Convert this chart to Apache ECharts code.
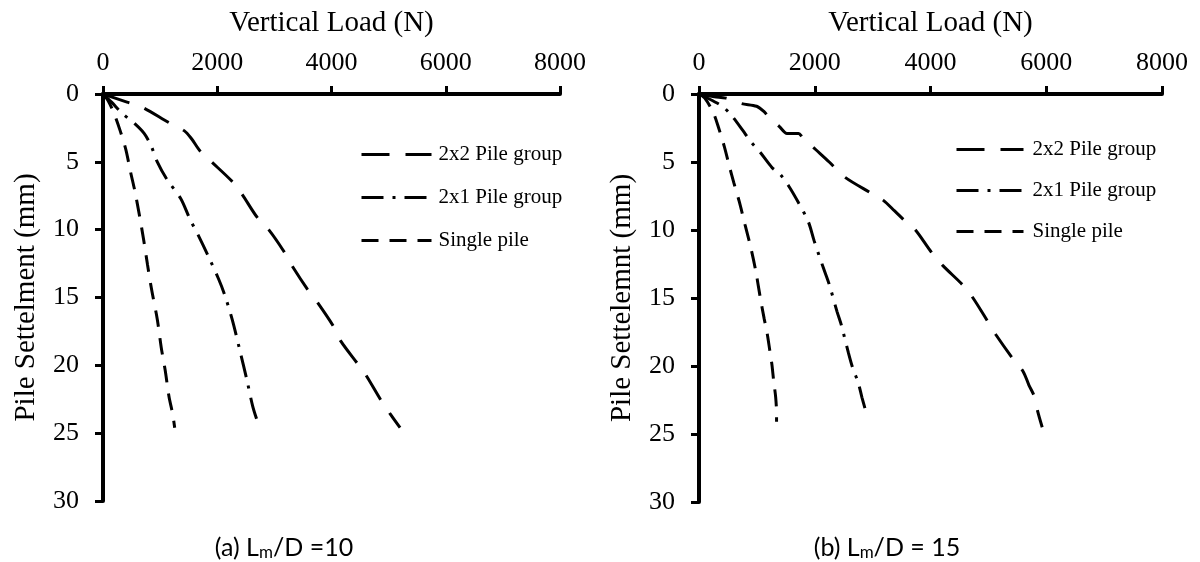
<!DOCTYPE html>
<html>
<head>
<meta charset="utf-8">
<script src="https://cdn.jsdelivr.net/npm/echarts@6/dist/echarts.min.js"></script>
<style>
  html, body { margin: 0; padding: 0; background: #fff; }
  #chart { width: 1200px; height: 562px; }
</style>
</head>
<body>
<div id="chart"></div>
<script>
// load (N), settlement (mm) pairs
var names = ['2x2 Pile group', '2x1 Pile group', 'Single pile']
var xTicks = [0, 2000, 4000, 6000, 8000]
var yTicks = [0, 5, 10, 15, 20, 25, 30]

// (a) Lm/D = 10
var a2x2 = [[0,0],[420,0.6],[700,1.0],[1150,2.1],[1420,2.7],[1550,3.3],[1700,4.2],[1900,5.0],[2250,6.4],[2420,7.3],[2700,9.1],[2900,10.0],[3150,11.5],[3300,12.6],[3580,14.4],[3760,15.4],[4030,17.1],[4160,18.2],[4460,19.9],[4600,20.7],[4870,22.6],[5030,23.6],[5200,24.6]]
var a2x1 = [[0,0],[150,0.6],[330,1.4],[560,2.2],[720,2.9],[840,3.8],[950,5.0],[1120,6.3],[1360,7.7],[1520,9.2],[1690,10.6],[1860,12.1],[2020,13.6],[2130,14.8],[2260,16.6],[2390,18.8],[2520,21.1],[2620,23.0],[2700,24.1]]
var aSingle = [[0,0],[90,0.5],[200,1.5],[300,2.7],[400,4.1],[480,5.7],[560,7.2],[640,9.0],[710,10.7],[780,12.6],[850,14.4],[950,16.6],[1020,18.7],[1090,20.4],[1155,22.3],[1220,23.6],[1255,24.6]]

// (b) Lm/D = 15
var b2x2 = [[0,0],[265,0.2],[465,0.3],[730,0.7],[995,0.9],[1125,1.3],[1225,1.8],[1390,2.4],[1520,2.9],[1720,2.9],[1790,3.2],[2020,4.1],[2250,5.0],[2515,6.1],[2980,7.3],[3180,7.8],[3380,8.6],[3575,9.4],[3740,10.0],[4010,11.6],[4210,12.6],[4570,14.1],[4735,15.0],[5000,16.8],[5130,17.7],[5430,19.5],[5600,20.4],[5700,21.4],[5800,22.3],[5850,23.3],[5930,24.5]]
var b2x1 = [[0,0],[100,0.2],[400,0.9],[565,1.6],[760,2.7],[895,3.5],[1060,4.3],[1260,5.4],[1400,5.9],[1555,6.8],[1720,8.0],[1890,9.4],[1990,10.8],[2150,12.8],[2250,14.0],[2385,16.0],[2460,17.0],[2580,19.0],[2660,20.2],[2750,21.2],[2815,22.3],[2880,23.3]]
var bSingle = [[0,0],[100,0.3],[250,1.4],[340,2.5],[440,3.9],[530,5.4],[600,6.5],[695,7.9],[795,9.6],[895,11.3],[980,13.0],[1060,15.0],[1125,16.5],[1170,17.4],[1225,18.9],[1260,19.9],[1290,21.1],[1325,22.3],[1340,23.5],[1340,24.1]]

var serif = 'Liberation Serif'
var dashes = [[28, 16], [22, 9, 3, 9], [17, 11]]

var xAxisOf = function (gi) {
    return {
        gridIndex: gi,
        type: 'value',
        position: 'top',
        min: xTicks[0],
        max: xTicks[xTicks.length - 1],
        interval: xTicks[1] - xTicks[0],
        name: 'Vertical Load (N)',
        nameLocation: 'middle',
        nameGap: 56,
        nameTextStyle: { fontFamily: serif, fontSize: 29, color: '#000' },
        axisLine: { show: true, lineStyle: { color: '#000', width: 4 } },
        axisTick: { show: true, length: 8, lineStyle: { color: '#000', width: 3 } },
        axisLabel: { margin: 18, fontFamily: serif, fontSize: 26, color: '#000',
            formatter: function (v) { return String(v) } },
        splitLine: { show: false }
    }
}
var yAxisOf = function (gi, title) {
    return {
        gridIndex: gi,
        type: 'value',
        inverse: true,
        min: yTicks[0],
        max: yTicks[yTicks.length - 1],
        interval: yTicks[1] - yTicks[0],
        name: title,
        nameLocation: 'middle',
        nameGap: 62,
        nameRotate: 90,
        nameTextStyle: { fontFamily: serif, fontSize: 29, color: '#000' },
        axisLine: { show: true, onZero: false, lineStyle: { color: '#000', width: 4 } },
        axisTick: { show: true, length: 8, lineStyle: { color: '#000', width: 3 } },
        axisLabel: { margin: 24, fontFamily: serif, fontSize: 26, color: '#000' },
        splitLine: { show: false }
    }
}
var seriesOf = function (gi, sets) {
    return sets.map(function (d, i) {
        return {
            name: names[i],
            type: 'line',
            xAxisIndex: gi,
            yAxisIndex: gi,
            data: d,
            smooth: 0.3,
            symbol: 'none',
            animation: false,
            itemStyle: { color: '#000' },
            lineStyle: { color: '#000', width: 3, type: dashes[i] }
        }
    })
}
var legendOf = function (left, top, gap, w, pad) {
    return {
        left: left,
        top: top,
        padding: 0,
        orient: 'vertical',
        itemWidth: w,
        itemHeight: 14,
        itemGap: gap,
        data: names,
        selectedMode: false,
        itemStyle: { opacity: 0 },
        lineStyle: { width: 3 },
        textStyle: { fontFamily: serif, fontSize: 21, color: '#000', padding: [0, 0, 0, pad] }
    }
}

var myChart = echarts.init(document.getElementById('chart'))
var options = {
    backgroundColor: '#fff',
    grid: [
        { left: 103, top: 94, width: 457, height: 407 },
        { left: 699, top: 94, width: 463, height: 408 }
    ],
    xAxis: [xAxisOf(0), xAxisOf(1)],
    yAxis: [yAxisOf(0, 'Pile Settelment (mm)'), yAxisOf(1, 'Pile Settelemnt (mm)')],
    legend: [legendOf(360, 144, 22, 70, 2), legendOf(955, 139, 20, 67, 4)],
    series: seriesOf(0, [a2x2, a2x1, aSingle]).concat(seriesOf(1, [b2x2, b2x1, bSingle])),
    graphic: [
        {
            type: 'text', x: 284, y: 548,
            style: {
                text: '(a) L{s|m}/D =10', align: 'center', verticalAlign: 'middle',
                fontFamily: 'Lato', fontSize: 25, fill: '#000',
                rich: { s: { fontFamily: 'Lato', fontSize: 17, fill: '#000', padding: [9, 0, 0, 0] } }
            }
        },
        {
            type: 'text', x: 887, y: 548,
            style: {
                text: '(b) L{s|m}/D = 15', align: 'center', verticalAlign: 'middle',
                fontFamily: 'Lato', fontSize: 25, fill: '#000',
                rich: { s: { fontFamily: 'Lato', fontSize: 17, fill: '#000', padding: [9, 0, 0, 0] } }
            }
        }
    ]
}
myChart.setOption(options)
</script>
</body>
</html>
